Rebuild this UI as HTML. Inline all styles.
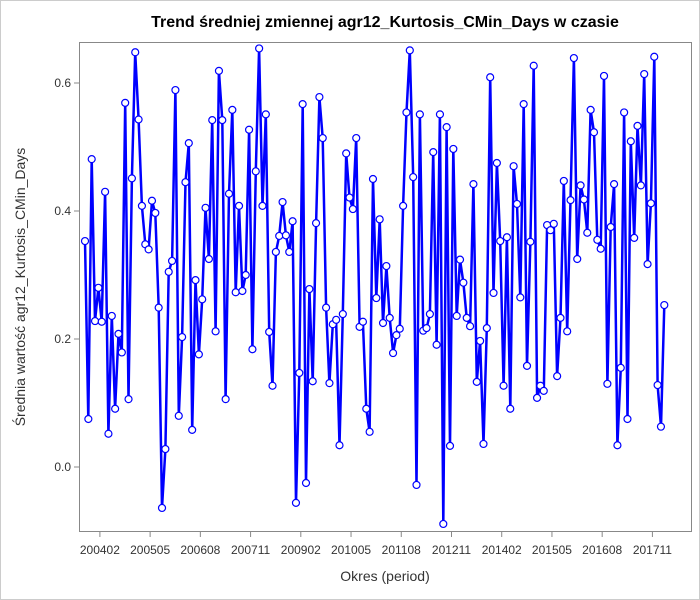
<!DOCTYPE html>
<html><head><meta charset="utf-8"><style>
body{margin:0;background:#fff;}
svg{display:block;font-family:"Liberation Sans",sans-serif;}
</style></head><body>
<svg id="chart" width="700" height="600">
<rect x="0.5" y="0.5" width="699" height="599" fill="#fff" stroke="#ccc"/>
<text x="385" y="27" text-anchor="middle" font-size="16" font-weight="bold" fill="#000">Trend średniej zmiennej agr12_Kurtosis_CMin_Days w czasie</text>
<rect x="79.5" y="42.5" width="612" height="489" fill="none" stroke="#888"/>
<g id="yaxis"></g>
<g id="xaxis"></g>
<text transform="translate(25,287) rotate(-90)" text-anchor="middle" font-size="14" fill="#333">Średnia wartość agr12_Kurtosis_CMin_Days</text>
<text x="385" y="581" text-anchor="middle" font-size="14" fill="#333">Okres (period)</text>
<g id="series"></g>
</svg>
<script>
const startYear = 2003, startMonth = 10;
const values = [0.353,0.075,0.481,0.228,0.280,0.227,0.430,0.052,0.236,0.091,0.208,0.179,0.569,0.106,0.451,0.648,0.543,0.408,0.348,0.340,0.416,0.397,0.249,-0.064,0.028,0.305,0.322,0.589,0.080,0.203,
0.445,0.506,0.058,0.292,0.176,0.262,0.405,0.325,0.542,0.212,0.619,0.542,0.106,0.427,0.558,0.273,0.408,0.275,0.300,0.527,0.184,0.462,0.654,0.408,0.551,0.211,0.127,0.336,0.361,0.414,
0.362,0.336,0.384,-0.056,0.147,0.567,-0.025,0.278,0.134,0.381,0.578,0.514,0.249,0.131,0.223,0.230,0.034,0.239,0.490,0.421,0.403,0.514,0.219,0.227,0.091,0.055,0.450,0.264,0.387,0.225,
0.314,0.233,0.178,0.206,0.216,0.408,0.554,0.651,0.453,-0.028,0.551,0.213,0.217,0.239,0.492,0.191,0.551,-0.089,0.531,0.033,0.497,0.236,0.324,0.288,0.233,0.220,0.442,0.133,0.197,0.036,
0.217,0.609,0.272,0.475,0.353,0.127,0.359,0.091,0.470,0.411,0.265,0.567,0.158,0.352,0.627,0.108,0.127,0.119,0.378,0.370,0.380,0.142,0.233,0.447,0.212,0.417,0.639,0.325,0.440,0.418,
0.366,0.558,0.523,0.355,0.341,0.611,0.130,0.375,0.442,0.034,0.155,0.554,0.075,0.509,0.358,0.533,0.440,0.614,0.317,0.412,0.641,0.128,0.063,0.253];
const yTicks = [0.0, 0.2, 0.4, 0.6];
const yTickLabels = ["0.0","0.2","0.4","0.6"];
const xTickLabels = ["200402","200505","200608","200711","200902","201005","201108","201211","201402","201505","201608","201711"];

const NS="http://www.w3.org/2000/svg";
function X(i){return 85 + i*(664.3-85)/173;}
function Y(v){return 467 - v*640;}
function idxOf(lbl){const y=+lbl.slice(0,4),m=+lbl.slice(4);return (y-startYear)*12+(m-startMonth);}
function mk(tag,attrs,parent){const e=document.createElementNS(NS,tag);for(const k in attrs)e.setAttribute(k,attrs[k]);parent.appendChild(e);return e;}
const ya=document.getElementById('yaxis'), xa=document.getElementById('xaxis'), sg=document.getElementById('series');
yTicks.forEach((t,k)=>{
  const l=mk('line',{x1:74,x2:79,y1:Y(t),y2:Y(t),stroke:'#888'},ya);
  
  
  const tx=mk('text',{x:71,y:Y(t)+4,'text-anchor':'end','font-size':12,fill:'#333'},ya);
  tx.textContent=yTickLabels[k];
  
  
});
xTickLabels.forEach(lbl=>{
  const x=X(idxOf(lbl))+1.5;
  const l=mk('line',{x1:x,x2:x,y1:532,y2:537,stroke:'#888'},xa);
  
  
  const tx=mk('text',{x:x,y:554,'text-anchor':'middle','font-size':12,fill:'#333'},xa);
  tx.textContent=lbl;
  
  
});
const pts=values.map((v,i)=>X(i).toFixed(1)+','+Y(v).toFixed(1)).join(' ');
const pl=mk('polyline',{points:pts,fill:'none',stroke:'#0000ff','stroke-width':2.5,'stroke-linejoin':'round'},sg);


values.forEach((v,i)=>{
  const c=mk('circle',{cx:X(i),cy:Y(v),r:3.5,fill:'#fff',stroke:'#0000ff','stroke-width':1.2},sg);
  
  
});
</script>
</body></html>
